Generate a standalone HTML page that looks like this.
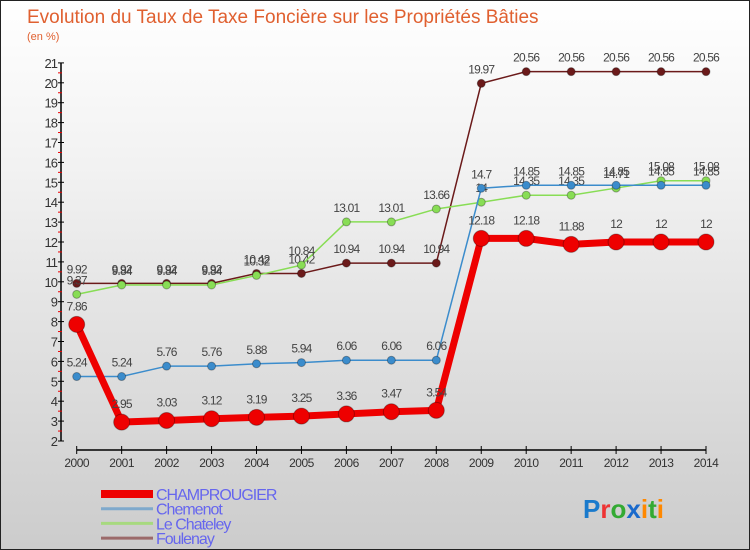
<!DOCTYPE html>
<html><head><meta charset="utf-8"><style>
body{margin:0;}
#c{position:relative;width:750px;height:550px;box-sizing:border-box;border:1px solid #222;background:linear-gradient(#fff,#f2f2f2 30%,#ccc);font-family:"Liberation Sans",sans-serif;overflow:hidden}
svg text{font-family:"Liberation Sans",sans-serif}
</style></head><body>
<div id="c">
<svg id="s" width="750" height="550">
<text x="26" y="22" font-size="19" fill="#e06030">Evolution du Taux de Taxe Foncière sur les Propriétés Bâties</text>
<text x="26" y="39" font-size="11" fill="#e06030">(en %)</text>
<text x="582" y="517" font-size="26" font-weight="bold"><tspan fill="#1a7acc">P</tspan><tspan fill="#e33">r</tspan><tspan fill="#3a3">o</tspan><tspan fill="#1a6acc">x</tspan><tspan fill="#f80">i</tspan><tspan fill="#3a3">t</tspan><tspan fill="#f80">i</tspan></text>
</svg>
</div>
<script>
const years=[2000,2001,2002,2003,2004,2005,2006,2007,2008,2009,2010,2011,2012,2013,2014];
const yTicks=[2,3,4,5,6,7,8,9,10,11,12,13,14,15,16,17,18,19,20,21];
const champrougier=[7.86,2.95,3.03,3.12,3.19,3.25,3.36,3.47,3.54,12.18,12.18,11.88,12,12,12];
const chemenot=[5.24,5.24,5.76,5.76,5.88,5.94,6.06,6.06,6.06,14.7,14.85,14.85,14.85,14.85,14.85];
const chateley=[9.37,9.84,9.84,9.84,10.32,10.84,13.01,13.01,13.66,14,14.35,14.35,14.71,15.08,15.08];
const foulenay=[9.92,9.92,9.92,9.92,10.42,10.42,10.94,10.94,10.94,19.97,20.56,20.56,20.56,20.56,20.56];
const NS='http://www.w3.org/2000/svg';
const svg=document.getElementById('s');
function xs(i){return 75.7+i*44.95;}
function ys(v){return 440-(v-2)*19.9;}
function mk(t,a){const e=document.createElementNS(NS,t);for(const k in a)e.setAttribute(k,a[k]);svg.appendChild(e);return e;}
let e=mk('line',{x1:60,y1:ys(21),x2:60,y2:ys(2),stroke:'#000','stroke-width':1.5});


e=mk('line',{x1:xs(0),y1:449,x2:xs(14),y2:449,stroke:'#000','stroke-width':1.5});


yTicks.forEach((v,i)=>{
 const y=ys(v);
 let t=mk('line',{x1:57,y1:y,x2:63,y2:y,stroke:'#000'});
 
 
 if(i<yTicks.length-1){let m=mk('line',{x1:57,y1:y-9.95,x2:61,y2:y-9.95,stroke:'#e00'});
 
 }
 let l=mk('text',{x:56,y:y+5,'text-anchor':'end','font-size':13,fill:'#333','letter-spacing':'-1'});
 l.textContent=v;
 
 
});
years.forEach((yr,i)=>{
 let t=mk('line',{x1:xs(i),y1:445,x2:xs(i),y2:453,stroke:'#000'});
 
 
 let l=mk('text',{x:xs(i),y:466,'text-anchor':'middle','font-size':12,fill:'#333','letter-spacing':'-0.5'});
 l.textContent=yr;
 
 
});
function series(data,color,lw,r,name){
 let p=mk('polyline',{points:data.map((v,i)=>xs(i)+','+ys(v)).join(' '),fill:'none',stroke:color,'stroke-width':lw,'stroke-linejoin':'round'});
 
 
 data.forEach((v,i)=>{
  let c=mk('circle',{cx:xs(i),cy:ys(v),r:r,fill:color,stroke:'rgba(0,0,0,0.3)','stroke-width':1});
  
  
  let t=mk('text',{x:xs(i),y:ys(v)-r-6,'text-anchor':'middle','font-size':12,fill:'#444','letter-spacing':'-0.8'});
  t.textContent=v;
  
  
 });
}
series(foulenay,'#6b1a1a',1.5,4,'foulenay');
series(chateley,'#88dd55',1.5,4,'le-chateley');
series(chemenot,'#3b8ccc',1.5,4,'chemenot');
series(champrougier,'#ee0000',7,8,'champrougier');
const legNames=['CHAMPROUGIER','Chemenot','Le Chateley','Foulenay'];
const legCols=['#ee0000','#7fa9cc','#a7d97f','#9b6a6a'];
const legW=[8,3,3,3];
legNames.forEach((n,i)=>{
 const y=493+i*14.7;
 let l=mk('line',{x1:100,y1:y,x2:152,y2:y,stroke:legCols[i],'stroke-width':legW[i]});
 
 
 let t=mk('text',{x:155,y:y+6,'font-size':16,fill:'#6666ee','letter-spacing':'-1'});
 t.textContent=n;
 
 
});
</script>
</body></html>
